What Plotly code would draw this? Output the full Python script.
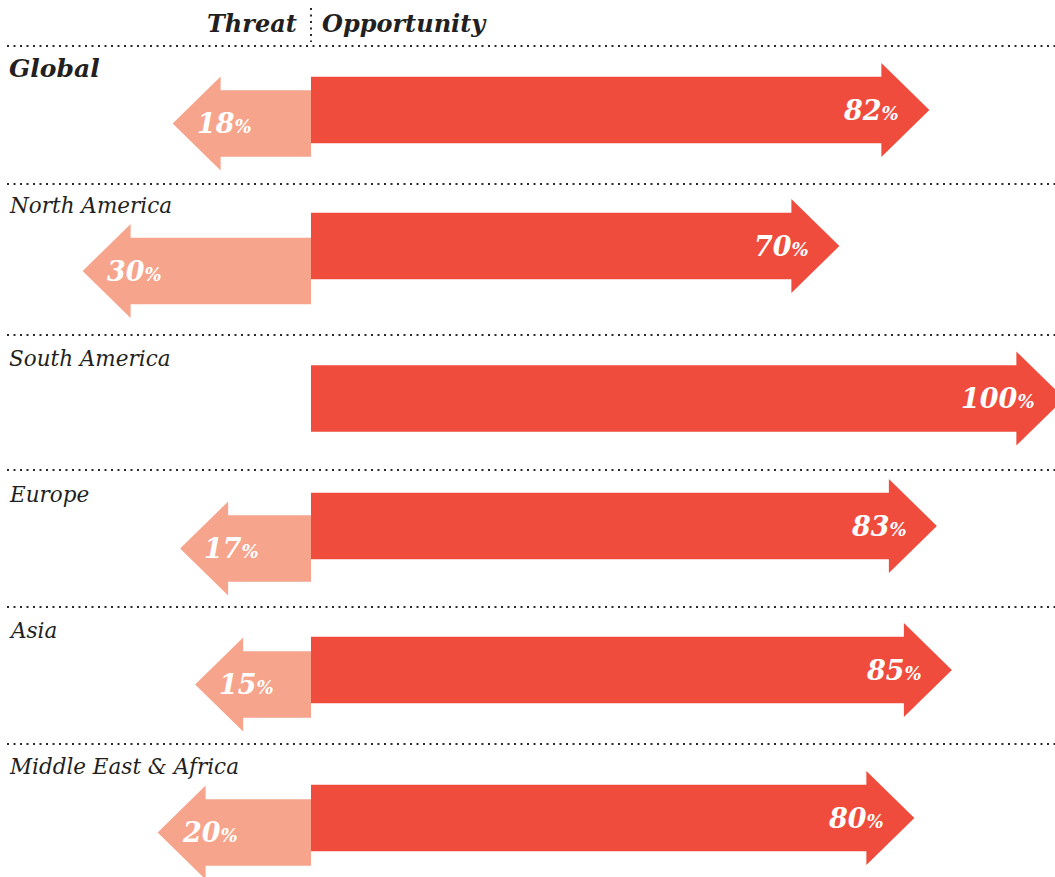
import plotly.graph_objects as go

# ---- data ----
regions = ["Global", "North America", "South America", "Europe", "Asia", "Middle East & Africa"]
threat = [18, 30, 0, 17, 15, 20]
opportunity = [82, 70, 100, 83, 85, 80]
header_left = "Threat"
header_right = "Opportunity"

# ---- layout (pixel rows, y axis is in pixels, x axis in percent) ----
W, H = 1055, 877
ZERO_PX = 311
PX_PER_PCT = 7.5
opp_center = [110, 246, 398.5, 526, 670, 818]
thr_center = [123.5, 271, 398.5, 548.5, 684.5, 832.5]
label_y = [68, 205, 358, 494, 630, 766]
sep_y = [46, 184, 335, 470, 607, 744]

OPP_COLOR = "#EF4C3D"
THR_COLOR = "#F6A48C"
TEXT_COLOR = "#231F20"
FONT = "DejaVu Serif"

BODY_HALF = 33.3
HEAD_HALF = 47
HEAD_LEN = 48 / PX_PER_PCT
TIP_PAD = 0.45


def px2u(px):
    return px / PX_PER_PCT


fig = go.Figure()


def arrow(direction, value, cy, color):
    tip = direction * (value + TIP_PAD)
    base = tip - direction * HEAD_LEN
    xs = [0, base, base, tip, base, base, 0, 0]
    ys = [cy - BODY_HALF, cy - BODY_HALF, cy - HEAD_HALF, cy, cy + HEAD_HALF,
          cy + BODY_HALF, cy + BODY_HALF, cy - BODY_HALF]
    fig.add_trace(go.Scatter(x=xs, y=ys, fill="toself", fillcolor=color,
                             mode="lines", line=dict(width=0, color=color),
                             hoverinfo="skip", showlegend=False))
    return tip


def pct_text(v):
    return f"<b><i>{v}</i></b><span style='font-size:18px'><b><i>%</i></b></span>"


annotations = []
for i, name in enumerate(regions):
    if threat[i] > 0:
        tip = arrow(-1, threat[i], thr_center[i], THR_COLOR)
        annotations.append(dict(
            x=tip + px2u(22), y=thr_center[i], xanchor="left", yanchor="middle",
            text=pct_text(threat[i]),
            font=dict(family=FONT, size=27, color="white"), showarrow=False))
    tip = arrow(1, opportunity[i], opp_center[i], OPP_COLOR)
    annotations.append(dict(
        x=tip - px2u(28), y=opp_center[i], xanchor="right", yanchor="middle",
        text=pct_text(opportunity[i]),
        font=dict(family=FONT, size=27, color="white"), showarrow=False))
    if i == 0:
        txt = f"<b><i>{name}</i></b>"
        size = 25
    else:
        txt = f"<i>{name}</i>"
        size = 21.5
    annotations.append(dict(
        x=px2u(7 - ZERO_PX), y=label_y[i], xanchor="left", yanchor="middle",
        text=txt, font=dict(family=FONT, size=size, color=TEXT_COLOR), showarrow=False))

# header
annotations.append(dict(x=px2u(-12), y=23, xanchor="right", yanchor="middle",
                        text=f"<b><i>{header_left}</i></b>",
                        font=dict(family=FONT, size=24, color=TEXT_COLOR), showarrow=False))
annotations.append(dict(x=px2u(9), y=23, xanchor="left", yanchor="middle",
                        text=f"<b><i>{header_right}</i></b>",
                        font=dict(family=FONT, size=24, color=TEXT_COLOR), showarrow=False))

shapes = []
for y in sep_y:
    shapes.append(dict(type="line", xref="x", yref="y", x0=px2u(7 - ZERO_PX), x1=px2u(W - ZERO_PX),
                       y0=y, y1=y, line=dict(color="#2a2a2a", width=2, dash="2px,4.5px")))
shapes.append(dict(type="line", xref="x", yref="y", x0=0, x1=0, y0=8, y1=42,
                   line=dict(color="#2a2a2a", width=2, dash="2px,4.5px")))

fig.update_layout(
    width=W, height=H, margin=dict(l=0, r=0, t=0, b=0),
    paper_bgcolor="white", plot_bgcolor="white",
    xaxis=dict(range=[px2u(-ZERO_PX), px2u(W - ZERO_PX)], visible=False, fixedrange=True),
    yaxis=dict(range=[H, 0], visible=False, fixedrange=True),
    annotations=annotations, shapes=shapes, showlegend=False,
)

fig.write_html("out.html", config={"displayModeBar": False},
               post_script="document.body.style.margin='0';")
